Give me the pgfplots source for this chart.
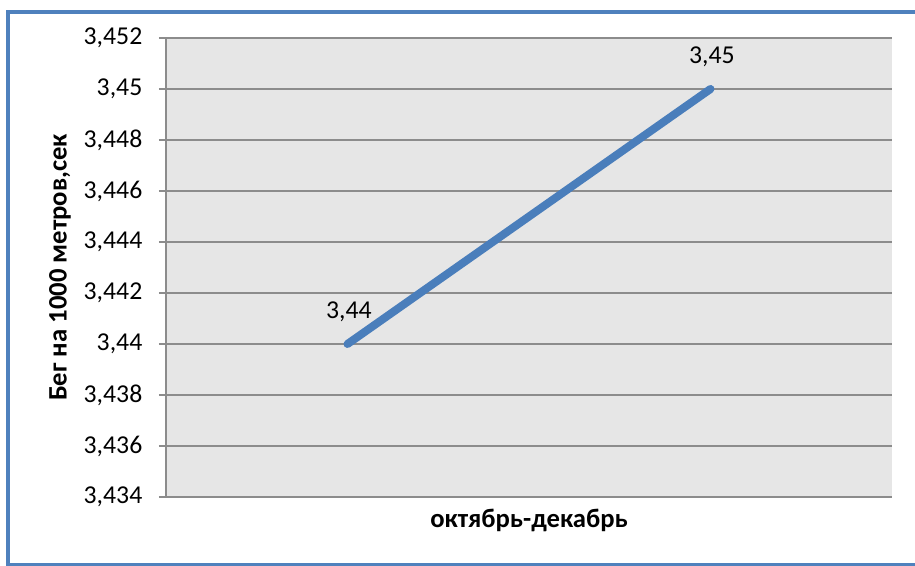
\documentclass[border=0pt]{standalone}
\usepackage{pgfplots}
\pgfplotsset{compat=1.18}
\usepackage{fontspec}
\setmainfont{Carlito}
\definecolor{frameblue}{HTML}{4F81BD}
\definecolor{lineblue}{HTML}{4A7EBB}
\definecolor{plotgray}{HTML}{E6E6E6}
\definecolor{gridgray}{HTML}{8C8C8C}
\begin{document}
\begin{tikzpicture}
\path[use as bounding box] (0,0) rectangle (686.25pt,424.5pt);
\clip (0,0) rectangle (686.25pt,424.5pt);
\draw[frameblue, line width=3.5pt] (6pt,0.5pt) rectangle (700pt,415.5pt);
\begin{axis}[
  at={(124.5pt,51.75pt)}, anchor=south west,
  scale only axis, width=544.5pt, height=344.25pt,
  xmin=-0.5, xmax=1.5, ymin=3.434, ymax=3.452,
  xtick=\empty,
  ytick={3.434,3.436,3.438,3.44,3.442,3.444,3.446,3.448,3.45,3.452},
  ymajorgrids,
  grid style={gridgray, line width=0.9pt},
  axis background/.style={fill=plotgray},
  axis x line*=bottom, axis y line*=left,
  axis line style={gridgray, line width=0.9pt},
  tick align=outside, tick pos=left,
  major tick length=5.25pt,
  tick style={gridgray, line width=0.9pt},
  /pgf/number format/assume math mode=true,
  yticklabel style={font=\fontsize{19.3}{23}\selectfont, xshift=-9pt, /pgf/number format/.cd, use comma, fixed, precision=3},
  ylabel={\bfseries Бег на 1000 метров,сек},
  ylabel style={font=\fontsize{20}{24}\selectfont, at={(axis description cs:0,0.5)}, anchor=center, yshift=79.5pt},
  xlabel={\bfseries октябрь-декабрь},
  xlabel style={font=\fontsize{20}{24}\selectfont, at={(axis description cs:0.5,0)}, anchor=center, yshift=-17.25pt},
  clip=false,
]
\addplot[lineblue, line width=6pt, line cap=round, mark=none,
  nodes near coords, point meta=explicit symbolic,
  every node near coord/.style={anchor=center, yshift=24.5pt, xshift=1pt, text=black, font=\fontsize{19.3}{23}\selectfont}]
  coordinates {(0,3.44)[3,44] (1,3.45)[3,45]};
\end{axis}
\end{tikzpicture}
\end{document}
